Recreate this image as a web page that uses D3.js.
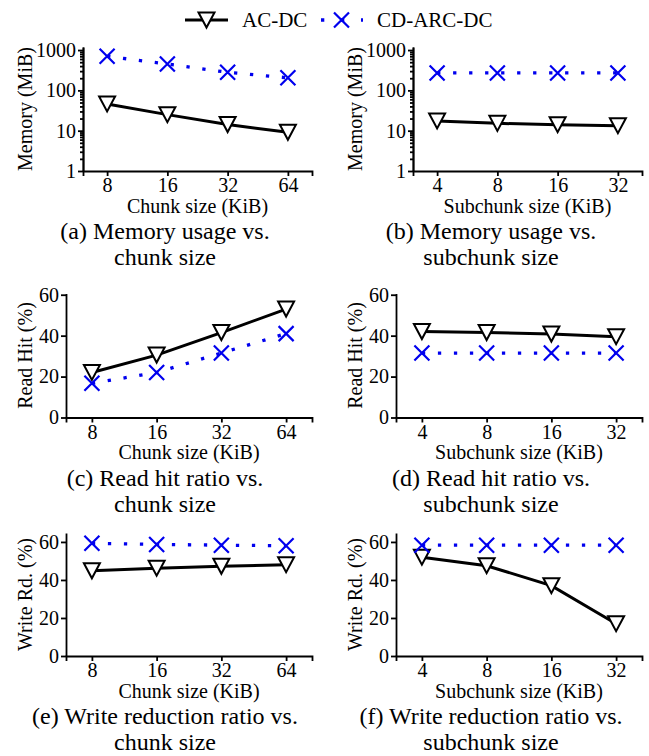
<!DOCTYPE html>
<html>
<head>
<meta charset="UTF-8">
<script src="https://d3js.org/d3.v7.min.js"></script>
<style>
    body {
        margin: 0;
        background: #fff;
    }

    svg {
        display: block;
        background: #fff;
    }

    text {
        font-family: "Liberation Serif", "Times New Roman", "DejaVu Serif", serif;
        fill: #000;
    }

    .axis text {
        font-size: 20px;
    }

    .axis path,
    .axis line {
        stroke: #000;
        stroke-width: 1.8;
    }

    text.label {
        font-size: 20px;
    }

    text.caption {
        font-size: 24px;
    }

    text.legend {
        font-size: 21px;
    }
</style>
</head>

<body>
    <svg width="649" height="756"></svg>

    <script>
        // categories
        const chunkSizes = ["8", "16", "32", "64"];
        const subchunkSizes = ["4", "8", "16", "32"];

        // memory usage (MiB), log axis
        const memChunkAC = [46, 25, 14.2, 9.1];
        const memChunkCD = [700, 450, 280, 205];
        const memSubAC = [17.4, 15.2, 14.1, 13.3];
        const memSubCD = [270, 270, 270, 270];

        // read hit (%)
        const readChunkAC = [22, 30.5, 41.5, 53];
        const readChunkCD = [16.7, 22, 31.5, 41];
        const readSubAC = [42, 41.5, 40.8, 39.5];
        const readSubCD = [31.5, 31.5, 31.5, 31.5];

        // write reduction (%)
        const writeChunkAC = [44.8, 46.2, 47.2, 48];
        const writeChunkCD = [59.3, 58.7, 58.3, 58];
        const writeSubAC = [52, 47.5, 37, 17];
        const writeSubCD = [58.3, 58.3, 58.3, 58.3];

        // tick labels
        const logTicks = [1, 10, 100, 1000];
        const pctTicks = [0, 20, 40, 60];

        const blue = "#0000ee";
        const serif = '"Liberation Serif", "Times New Roman", "DejaVu Serif", serif';

        const panels = [
            { cats: chunkSizes, ac: memChunkAC, cd: memChunkCD, log: true, left: 83, right: 312, top: 47, bottom: 171, col: 0,
              ylab: "Memory (MiB)", xlab: "Chunk size (KiB)", cap: ["(a) Memory usage vs.", "chunk size"] },
            { cats: subchunkSizes, ac: memSubAC, cd: memSubCD, log: true, left: 413, right: 642, top: 47, bottom: 171, col: 1,
              ylab: "Memory (MiB)", xlab: "Subchunk size (KiB)", cap: ["(b) Memory usage vs.", "subchunk size"] },
            { cats: chunkSizes, ac: readChunkAC, cd: readChunkCD, ymax: 60.6, left: 66, right: 312, top: 293.5, bottom: 417.5, col: 0,
              ylab: "Read Hit (%)", xlab: "Chunk size (KiB)", cap: ["(c) Read hit ratio vs.", "chunk size"] },
            { cats: subchunkSizes, ac: readSubAC, cd: readSubCD, ymax: 60.6, left: 396, right: 642, top: 293.5, bottom: 417.5, col: 1,
              ylab: "Read Hit (%)", xlab: "Subchunk size (KiB)", cap: ["(d) Read hit ratio vs.", "subchunk size"] },
            { cats: chunkSizes, ac: writeChunkAC, cd: writeChunkCD, ymax: 64.7, left: 66, right: 312, top: 533, bottom: 656, col: 0,
              ylab: "Write Rd. (%)", xlab: "Chunk size (KiB)", cap: ["(e) Write reduction ratio vs.", "chunk size"] },
            { cats: subchunkSizes, ac: writeSubAC, cd: writeSubCD, ymax: 64.7, left: 396, right: 642, top: 533, bottom: 656, col: 1,
              ylab: "Write Rd. (%)", xlab: "Subchunk size (KiB)", cap: ["(f) Write reduction ratio vs.", "subchunk size"] }
        ];

        const svg = d3.select("svg");
        const triPath = "M-8,-7.5L8,-7.5L0,7.5Z";
        const crossPath = "M-7.5,-7.5L7.5,7.5M-7.5,7.5L7.5,-7.5";

        function drawAC(g, pts) {
            g.append("path")
                .attr("d", d3.line()(pts))
                .attr("fill", "none")
                .attr("stroke", "#000")
                .attr("stroke-width", 3);
            g.selectAll(".tri")
                .data(pts)
                .enter().append("path")
                .attr("class", "tri")
                .attr("transform", d => `translate(${d[0]},${d[1]})`)
                .attr("d", triPath)
                .attr("fill", "#fff")
                .attr("stroke", "#000")
                .attr("stroke-width", 2);
        }

        function drawCD(g, pts) {
            g.append("path")
                .attr("d", d3.line()(pts))
                .attr("fill", "none")
                .attr("stroke", blue)
                .attr("stroke-width", 3.3)
                .attr("stroke-dasharray", "3.3 12.7");
            g.selectAll(".crs")
                .data(pts)
                .enter().append("path")
                .attr("class", "crs")
                .attr("transform", d => `translate(${d[0]},${d[1]})`)
                .attr("d", crossPath)
                .attr("fill", "none")
                .attr("stroke", blue)
                .attr("stroke-width", 2.2);
        }

        panels.forEach(p => {
            const g = svg.append("g");
            const x = d3.scalePoint().domain(p.cats).range([p.left, p.right]).padding(0.4);
            const y = p.log
                ? d3.scaleLog().domain([1, 1190]).range([p.bottom, p.top])
                : d3.scaleLinear().domain([0, p.ymax]).range([p.bottom, p.top]);

            // x axis
            g.append("g")
                .attr("class", "axis")
                .attr("transform", `translate(0,${p.bottom})`)
                .call(d3.axisBottom(x).tickSizeOuter(0).tickSize(5).tickPadding(2));

            // y axis
            if (p.log) {
                const minor = [];
                [1, 10, 100].forEach(b => { for (let k = 2; k <= 9; k++) minor.push(b * k); });
                g.append("g")
                    .attr("class", "axis")
                    .attr("transform", `translate(${p.left},0)`)
                    .call(d3.axisLeft(y).tickValues(minor).tickSize(3).tickSizeOuter(0).tickFormat(""));
                g.append("g")
                    .attr("class", "axis")
                    .attr("transform", `translate(${p.left},0)`)
                    .call(d3.axisLeft(y).tickValues(logTicks).tickSize(5).tickSizeOuter(0).tickPadding(2).tickFormat(d3.format("d")));
            } else {
                g.append("g")
                    .attr("class", "axis")
                    .attr("transform", `translate(${p.left},0)`)
                    .call(d3.axisLeft(y).tickValues(pctTicks).tickSize(5).tickSizeOuter(0).tickPadding(2));
            }

            const cx = (p.left + p.right) / 2;
            g.append("text")
                .attr("class", "label")
                .attr("x", cx)
                .attr("y", p.bottom + 41.5)
                .attr("text-anchor", "middle")
                .text(p.xlab);

            g.append("text")
                .attr("class", "label")
                .attr("transform", `translate(${p.col ? 362 : 32},${(p.top + p.bottom) / 2}) rotate(-90)`)
                .attr("text-anchor", "middle")
                .text(p.ylab);

            const capX = p.col ? 491 : 165;
            p.cap.forEach((line, i) => {
                g.append("text")
                    .attr("class", "caption")
                    .attr("x", capX)
                    .attr("y", p.bottom + 68 + i * 26)
                    .attr("text-anchor", "middle")
                    .text(line);
            });

            drawAC(g, p.ac.map((v, i) => [x(p.cats[i]), y(v)]));
            drawCD(g, p.cd.map((v, i) => [x(p.cats[i]), y(v)]));
        });

        // legend
        const lg = svg.append("g");
        lg.append("path")
            .attr("d", d3.line()([[185, 20], [228, 20]]))
            .attr("stroke", "#000")
            .attr("stroke-width", 3);
        lg.append("path")
            .attr("transform", "translate(206.5,20)")
            .attr("d", triPath)
            .attr("fill", "#fff")
            .attr("stroke", "#000")
            .attr("stroke-width", 2);
        lg.append("text")
            .attr("class", "legend")
            .attr("x", 242)
            .attr("y", 27)
            .text("AC-DC");
        lg.append("path")
            .attr("d", d3.line()([[321, 20], [363, 20]]))
            .attr("stroke", blue)
            .attr("stroke-width", 3.3)
            .attr("stroke-dasharray", "3.3 16.7");
        lg.append("path")
            .attr("transform", "translate(341.5,20)")
            .attr("d", crossPath)
            .attr("fill", "none")
            .attr("stroke", blue)
            .attr("stroke-width", 2.2);
        lg.append("text")
            .attr("class", "legend")
            .attr("x", 377)
            .attr("y", 27)
            .text("CD-ARC-DC");

        svg.selectAll("text").style("font-family", serif);
    </script>
</body>
</html>
